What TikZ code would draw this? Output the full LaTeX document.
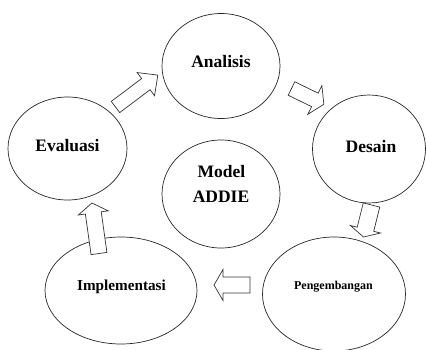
\documentclass[tikz,border=0pt]{standalone}
\usepackage{fontspec}
\setmainfont{Liberation Serif}
\usetikzlibrary{shapes.geometric}
\tikzset{
  phase/.style={ellipse, draw=black!85, line width=0.7pt, inner sep=0pt},
  lbl/.style={font=\bfseries\fontsize{17.5}{20}\selectfont, anchor=base, inner sep=0pt},
  blockarr/.style={draw=black!80, fill=white, line width=0.7pt, line join=miter}
}
% #1 x, #2 y (tail centre), #3 angle, #4 length, #5 shaft width, #6 head width, #7 head length
\newcommand{\blockarrow}[7]{%
  \draw[blockarr, shift={(#1,#2)}, rotate=#3]
    (0,-#5/2) -- ({#4-#7},-#5/2) -- ({#4-#7},-#6/2) -- (#4,0)
    -- ({#4-#7},#6/2) -- ({#4-#7},#5/2) -- (0,#5/2) -- cycle;}
\begin{document}
\begin{tikzpicture}[x=1pt,y=-1pt]
\useasboundingbox (0,0) rectangle (426,349);
\begin{scope}
\clip (0,0) rectangle (426,349);
\node[phase, minimum width=118pt, minimum height=105pt] (ana) at (221,66) {};
\node[phase, minimum width=113pt, minimum height=108pt] (des) at (369,149) {};
\node[phase, minimum width=119pt, minimum height=103pt] (eva) at (67.5,148.5) {};
\node[phase, minimum width=118pt, minimum height=108pt] (mod) at (221,194) {};
\node[phase, minimum width=152pt, minimum height=107pt] (imp) at (121,290.5) {};
\node[phase, minimum width=143pt, minimum height=114pt] (pen) at (334,294) {};
\end{scope}
\node[lbl] (tana) at (221,67) {Analisis};
\node[lbl] (tdes) at (371,152) {Desain};
\node[lbl] (teva) at (67.5,151) {Evaluasi};
\node[lbl] (tmod) at (221.5,177) {Model};
\node[lbl] (tadd) at (221,202) {ADDIE};
\node[lbl, font=\bfseries\fontsize{15.2}{18}\selectfont] (timp) at (121.5,290) {Implementasi};
\node[lbl, font=\bfseries\fontsize{12}{14}\selectfont] (tpen) at (333.5,289) {Pengembangan};
\blockarrow{115.5}{107}{37}{53}{14}{29}{15}
\blockarrow{291.5}{88.5}{-26}{36}{15}{32}{10}
\blockarrow{371.5}{205}{-104}{33}{17}{31}{8}
\blockarrow{250}{285}{180}{36}{16}{31}{9}
\blockarrow{99}{253.5}{98}{51}{16}{30}{10}
\end{tikzpicture}
\end{document}
